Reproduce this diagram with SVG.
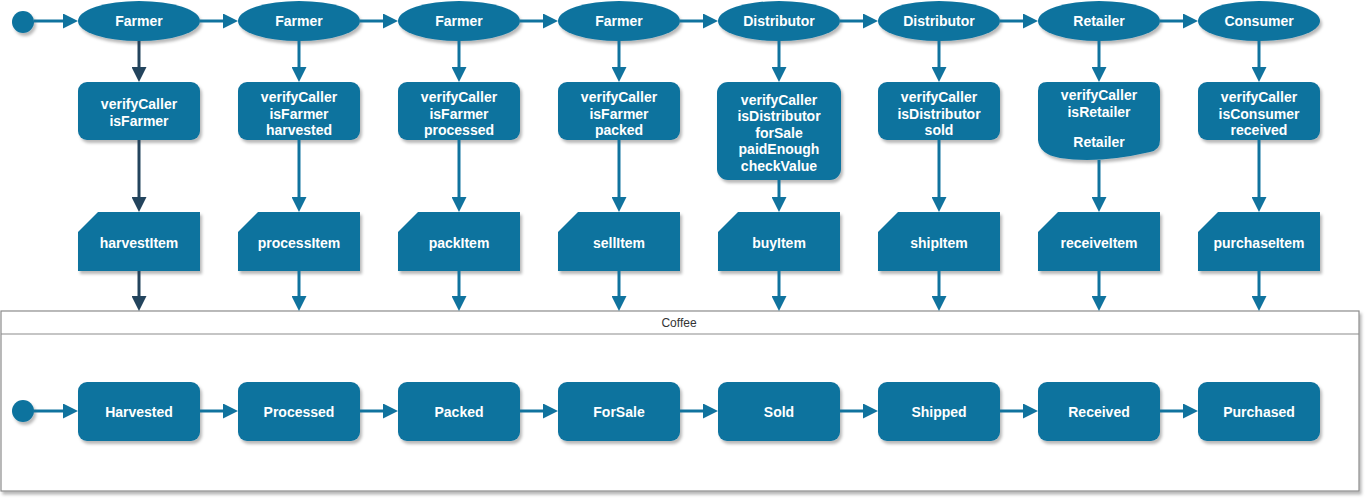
<svg xmlns="http://www.w3.org/2000/svg" width="1370" height="503" viewBox="0 0 1370 503">
<defs>
<filter id="sh" x="-10%" y="-10%" width="130%" height="140%">
<feDropShadow dx="2" dy="3" stdDeviation="1.5" flood-color="#000" flood-opacity="0.28"/>
</filter>
<marker id="ab" viewBox="0 0 15 15" markerWidth="15" markerHeight="15" refX="1" refY="7.5" orient="auto" markerUnits="userSpaceOnUse">
<path d="M0,0 L15,7.5 L0,15 Z" fill="#10739E"/>
</marker>
<marker id="ad" viewBox="0 0 15 15" markerWidth="15" markerHeight="15" refX="1" refY="7.5" orient="auto" markerUnits="userSpaceOnUse">
<path d="M0,0 L15,7.5 L0,15 Z" fill="#23445D"/>
</marker>
</defs>
<style>
.n{fill:#10739E;filter:url(#sh)}
.t{font-family:"Liberation Sans",Arial,Helvetica,sans-serif;font-size:14px;font-weight:bold;fill:#fff;text-anchor:middle}
.c{stroke:#10739E;stroke-width:3;fill:none;marker-end:url(#ab)}
.d{stroke:#23445D;stroke-width:3;fill:none;marker-end:url(#ad)}
.lane{fill:#fff;stroke:#8c8c8c;stroke-width:1.2;filter:url(#sh)}
.lt{font-family:"Liberation Sans",Arial,Helvetica,sans-serif;font-size:12px;fill:#333;text-anchor:middle}
</style>

<g id="coffee">
<rect class="lane" x="1" y="311" width="1358" height="180"/>
<line x1="1" y1="334" x2="1359" y2="334" stroke="#8c8c8c" stroke-width="1.2"/>
<text class="lt" x="679" y="327">Coffee</text>
</g>

<g id="start-top"><circle class="n" cx="23" cy="22" r="11"/></g>
<g id="start-bottom"><circle class="n" cx="23" cy="411" r="11"/></g>

<g id="actor1"><ellipse class="n" cx="139" cy="21" rx="61" ry="20"/><text class="t" x="139" y="26">Farmer</text></g>
<g id="actor2"><ellipse class="n" cx="299" cy="21" rx="61" ry="20"/><text class="t" x="299" y="26">Farmer</text></g>
<g id="actor3"><ellipse class="n" cx="459" cy="21" rx="61" ry="20"/><text class="t" x="459" y="26">Farmer</text></g>
<g id="actor4"><ellipse class="n" cx="619" cy="21" rx="61" ry="20"/><text class="t" x="619" y="26">Farmer</text></g>
<g id="actor5"><ellipse class="n" cx="779" cy="21" rx="61" ry="20"/><text class="t" x="779" y="26">Distributor</text></g>
<g id="actor6"><ellipse class="n" cx="939" cy="21" rx="61" ry="20"/><text class="t" x="939" y="26">Distributor</text></g>
<g id="actor7"><ellipse class="n" cx="1099" cy="21" rx="61" ry="20"/><text class="t" x="1099" y="26">Retailer</text></g>
<g id="actor8"><ellipse class="n" cx="1259" cy="21" rx="61" ry="20"/><text class="t" x="1259" y="26">Consumer</text></g>

<g id="check1"><rect class="n" x="78" y="82" width="122" height="58" rx="9"/>
<text class="t" x="139" y="109">verifyCaller</text><text class="t" x="139" y="126">isFarmer</text></g>
<g id="check2"><rect class="n" x="238" y="82" width="122" height="58" rx="9"/>
<text class="t" x="299" y="102">verifyCaller</text><text class="t" x="299" y="118.5">isFarmer</text><text class="t" x="299" y="135">harvested</text></g>
<g id="check3"><rect class="n" x="398" y="82" width="122" height="58" rx="9"/>
<text class="t" x="459" y="102">verifyCaller</text><text class="t" x="459" y="118.5">isFarmer</text><text class="t" x="459" y="135">processed</text></g>
<g id="check4"><rect class="n" x="558" y="82" width="122" height="58" rx="9"/>
<text class="t" x="619" y="102">verifyCaller</text><text class="t" x="619" y="118.5">isFarmer</text><text class="t" x="619" y="135">packed</text></g>
<g id="check5"><rect class="n" x="717" y="82" width="124" height="98" rx="11"/>
<text class="t" x="779" y="104.5">verifyCaller</text><text class="t" x="779" y="121">isDistributor</text><text class="t" x="779" y="137.5">forSale</text><text class="t" x="779" y="154">paidEnough</text><text class="t" x="779" y="170.5">checkValue</text></g>
<g id="check6"><rect class="n" x="878" y="82" width="122" height="58" rx="9"/>
<text class="t" x="939" y="102">verifyCaller</text><text class="t" x="939" y="118.5">isDistributor</text><text class="t" x="939" y="135">sold</text></g>
<g id="check7"><path class="n" d="M1047,82 H1151 Q1160,82 1160,91 V140 Q1160,150 1150,152 Q1098,164 1060,158 Q1039,154 1038,140 V91 Q1038,82 1047,82 Z"/>
<text class="t" x="1099" y="100">verifyCaller</text><text class="t" x="1099" y="117">isRetailer</text><text class="t" x="1099" y="147">Retailer</text></g>
<g id="check8"><rect class="n" x="1198" y="82" width="122" height="58" rx="9"/>
<text class="t" x="1259" y="102">verifyCaller</text><text class="t" x="1259" y="118.5">isConsumer</text><text class="t" x="1259" y="135">received</text></g>

<g id="fn1"><path class="n" d="M78,232 L98,212 H200 V271 H78 Z"/><text class="t" x="139" y="248">harvestItem</text></g>
<g id="fn2"><path class="n" d="M238,232 L258,212 H360 V271 H238 Z"/><text class="t" x="299" y="248">processItem</text></g>
<g id="fn3"><path class="n" d="M398,232 L418,212 H520 V271 H398 Z"/><text class="t" x="459" y="248">packItem</text></g>
<g id="fn4"><path class="n" d="M558,232 L578,212 H680 V271 H558 Z"/><text class="t" x="619" y="248">sellItem</text></g>
<g id="fn5"><path class="n" d="M718,232 L738,212 H840 V271 H718 Z"/><text class="t" x="779" y="248">buyItem</text></g>
<g id="fn6"><path class="n" d="M878,232 L898,212 H1000 V271 H878 Z"/><text class="t" x="939" y="248">shipItem</text></g>
<g id="fn7"><path class="n" d="M1038,232 L1058,212 H1160 V271 H1038 Z"/><text class="t" x="1099" y="248">receiveItem</text></g>
<g id="fn8"><path class="n" d="M1198,232 L1218,212 H1320 V271 H1198 Z"/><text class="t" x="1259" y="248">purchaseItem</text></g>

<g id="state1"><rect class="n" x="78" y="382" width="122" height="59" rx="9"/><text class="t" x="139" y="417">Harvested</text></g>
<g id="state2"><rect class="n" x="238" y="382" width="122" height="59" rx="9"/><text class="t" x="299" y="417">Processed</text></g>
<g id="state3"><rect class="n" x="398" y="382" width="122" height="59" rx="9"/><text class="t" x="459" y="417">Packed</text></g>
<g id="state4"><rect class="n" x="558" y="382" width="122" height="59" rx="9"/><text class="t" x="619" y="417">ForSale</text></g>
<g id="state5"><rect class="n" x="718" y="382" width="122" height="59" rx="9"/><text class="t" x="779" y="417">Sold</text></g>
<g id="state6"><rect class="n" x="878" y="382" width="122" height="59" rx="9"/><text class="t" x="939" y="417">Shipped</text></g>
<g id="state7"><rect class="n" x="1038" y="382" width="122" height="59" rx="9"/><text class="t" x="1099" y="417">Received</text></g>
<g id="state8"><rect class="n" x="1198" y="382" width="122" height="59" rx="9"/><text class="t" x="1259" y="417">Purchased</text></g>

<g id="connectors">
<line class="c" x1="34" y1="21" x2="64" y2="21"/>
<line class="c" x1="200" y1="21" x2="224" y2="21"/>
<line class="c" x1="360" y1="21" x2="384" y2="21"/>
<line class="c" x1="520" y1="21" x2="544" y2="21"/>
<line class="c" x1="680" y1="21" x2="704" y2="21"/>
<line class="c" x1="840" y1="21" x2="864" y2="21"/>
<line class="c" x1="1000" y1="21" x2="1024" y2="21"/>
<line class="c" x1="1160" y1="21" x2="1184" y2="21"/>

<line class="d" x1="139" y1="41" x2="139" y2="68"/>
<line class="d" x1="139" y1="140" x2="139" y2="198"/>
<line class="d" x1="139" y1="271" x2="139" y2="297"/>

<line class="c" x1="299" y1="41" x2="299" y2="68"/>
<line class="c" x1="299" y1="140" x2="299" y2="198"/>
<line class="c" x1="299" y1="271" x2="299" y2="297"/>
<line class="c" x1="459" y1="41" x2="459" y2="68"/>
<line class="c" x1="459" y1="140" x2="459" y2="198"/>
<line class="c" x1="459" y1="271" x2="459" y2="297"/>
<line class="c" x1="619" y1="41" x2="619" y2="68"/>
<line class="c" x1="619" y1="140" x2="619" y2="198"/>
<line class="c" x1="619" y1="271" x2="619" y2="297"/>
<line class="c" x1="779" y1="41" x2="779" y2="68"/>
<line class="c" x1="779" y1="180" x2="779" y2="198"/>
<line class="c" x1="779" y1="271" x2="779" y2="297"/>
<line class="c" x1="939" y1="41" x2="939" y2="68"/>
<line class="c" x1="939" y1="140" x2="939" y2="198"/>
<line class="c" x1="939" y1="271" x2="939" y2="297"/>
<line class="c" x1="1099" y1="41" x2="1099" y2="68"/>
<line class="c" x1="1099" y1="160" x2="1099" y2="198"/>
<line class="c" x1="1099" y1="271" x2="1099" y2="297"/>
<line class="c" x1="1259" y1="41" x2="1259" y2="68"/>
<line class="c" x1="1259" y1="140" x2="1259" y2="198"/>
<line class="c" x1="1259" y1="271" x2="1259" y2="297"/>

<line class="c" x1="34" y1="411" x2="64" y2="411"/>
<line class="c" x1="200" y1="411" x2="224" y2="411"/>
<line class="c" x1="360" y1="411" x2="384" y2="411"/>
<line class="c" x1="520" y1="411" x2="544" y2="411"/>
<line class="c" x1="680" y1="411" x2="704" y2="411"/>
<line class="c" x1="840" y1="411" x2="864" y2="411"/>
<line class="c" x1="1000" y1="411" x2="1024" y2="411"/>
<line class="c" x1="1160" y1="411" x2="1184" y2="411"/>
</g>
</svg>
